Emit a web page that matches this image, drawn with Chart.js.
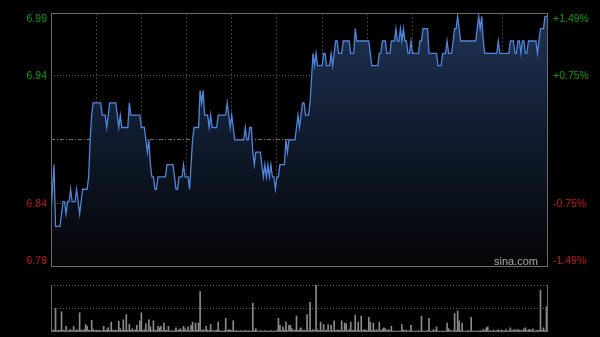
<!DOCTYPE html>
<html>
<head>
<meta charset="utf-8">
<script src="https://cdn.jsdelivr.net/npm/chart.js@4.4.0/dist/chart.umd.min.js"></script>
<style>
  html, body { margin: 0; padding: 0; background: #000; }
  #wrap { position: relative; width: 600px; height: 337px; }
  #priceBox { position: absolute; left: 0; top: 0; width: 600px; height: 278px; }
  #volBox { position: absolute; left: 0; top: 280px; width: 600px; height: 57px; }
</style>
</head>
<body>
<div id="wrap">
  <div id="priceBox"><canvas id="price"></canvas></div>
  <div id="volBox"><canvas id="vol"></canvas></div>
</div>
<script>
// intraday, one value per minute (09:30-12:00, 13:00-16:00)
const prevClose = 6.89;
const pctRange = 1.49;

const prices = [
  6.83,6.85,6.87,6.82,6.82,6.82,6.82,6.83,6.84,6.84,
  6.83,6.84,6.84,6.85,6.84,6.84,6.84,6.85,6.84,6.83,
  6.84,6.85,6.85,6.85,6.85,6.86,6.89,6.91,6.92,6.92,
  6.92,6.92,6.92,6.92,6.91,6.91,6.91,6.90,6.91,6.92,
  6.92,6.92,6.92,6.92,6.91,6.90,6.91,6.90,6.90,6.90,
  6.90,6.90,6.92,6.91,6.91,6.91,6.91,6.91,6.91,6.91,
  6.90,6.90,6.90,6.89,6.88,6.89,6.87,6.86,6.86,6.85,
  6.85,6.86,6.86,6.86,6.86,6.86,6.86,6.87,6.87,6.87,
  6.87,6.87,6.86,6.85,6.85,6.86,6.86,6.86,6.87,6.86,
  6.86,6.86,6.85,6.87,6.89,6.90,6.90,6.90,6.90,6.93,
  6.92,6.93,6.91,6.91,6.91,6.90,6.91,6.90,6.90,6.90,
  6.90,6.91,6.91,6.91,6.91,6.91,6.91,6.92,6.91,6.90,
  6.91,6.90,6.89,6.89,6.89,6.89,6.89,6.89,6.89,6.90,
  6.89,6.89,6.90,6.90,6.88,6.87,6.88,6.88,6.88,6.88,
  6.87,6.86,6.87,6.86,6.87,6.86,6.87,6.86,6.86,6.85,
  6.86,6.86,6.87,6.87,6.87,6.87,6.89,6.88,6.89,6.89,
  6.89,6.89,6.89,6.90,6.91,6.90,6.91,6.92,6.92,6.91,
  6.91,6.91,6.92,6.94,6.96,6.95,6.96,6.95,6.95,6.95,
  6.95,6.96,6.96,6.95,6.95,6.95,6.96,6.95,6.96,6.97,
  6.97,6.96,6.96,6.96,6.97,6.97,6.97,6.97,6.97,6.96,
  6.96,6.96,6.98,6.97,6.97,6.97,6.97,6.97,6.97,6.97,
  6.97,6.97,6.96,6.95,6.95,6.95,6.95,6.95,6.96,6.96,
  6.97,6.97,6.97,6.96,6.96,6.96,6.97,6.97,6.97,6.98,
  6.97,6.97,6.98,6.97,6.98,6.97,6.97,6.96,6.96,6.97,
  6.96,6.96,6.96,6.96,6.96,6.97,6.97,6.98,6.98,6.98,
  6.98,6.96,6.96,6.96,6.96,6.96,6.96,6.95,6.95,6.95,
  6.96,6.96,6.96,6.97,6.96,6.96,6.96,6.97,6.98,6.98,
  6.99,6.98,6.97,6.97,6.97,6.97,6.97,6.97,6.97,6.97,
  6.97,6.97,6.97,6.98,6.99,6.98,6.99,6.97,6.96,6.96,
  6.96,6.96,6.96,6.96,6.96,6.96,6.96,6.97,6.96,6.96,
  6.96,6.96,6.96,6.96,6.96,6.97,6.97,6.97,6.96,6.96,
  6.97,6.97,6.96,6.97,6.97,6.96,6.96,6.97,6.97,6.97,
  6.97,6.97,6.97,6.96,6.97,6.98,6.98,6.98,6.99,6.99,
  6.99
];

// relative volume per minute (tallest bar = 100)
const volumes = [
  6,3,4,50,3,4,3,43,4,3,
  12,2,4,5,3,12,3,5,3,41,
  4,3,5,16,12,4,3,25,5,3,
  4,3,4,2,3,12,3,5,9,3,
  21,4,3,4,3,23,7,3,26,4,
  37,3,16,4,7,3,5,14,3,24,
  41,3,5,18,3,26,11,3,24,4,
  3,12,9,12,3,19,4,3,12,2,
  3,2,3,9,3,5,7,3,12,7,
  3,11,3,14,21,3,19,4,19,86,
  3,5,3,12,4,3,16,3,2,3,
  4,21,3,2,2,3,29,3,5,4,
  3,24,2,3,2,2,3,2,2,3,
  2,3,2,2,61,3,7,2,2,3,
  2,2,3,2,2,2,3,2,2,2,
  3,29,14,3,11,4,21,3,14,14,
  7,3,4,34,3,5,9,3,4,3,
  37,3,63,3,5,3,100,5,3,21,
  3,16,3,4,16,3,14,3,24,3,
  4,4,3,24,3,19,18,3,5,21,
  3,4,36,3,21,3,34,3,5,4,
  3,31,21,3,19,3,5,3,21,3,
  5,9,7,3,5,3,12,2,2,2,
  2,2,2,16,4,3,4,2,3,14,
  2,2,2,2,3,2,34,2,2,2,
  3,29,2,2,5,3,11,2,2,2,
  2,2,2,19,7,3,2,3,39,3,
  45,24,3,19,2,2,2,3,2,31,
  2,2,2,2,2,3,2,5,3,9,
  11,2,3,2,4,2,3,5,2,4,
  3,2,5,2,3,9,3,4,5,3,
  5,4,3,3,7,9,3,5,5,3,
  7,2,3,4,3,89,3,9,3,54,
  8
];

// tick positions (% from previous close) and their texts
const tickPcts = [-1.42, -0.75, 0, 0.75, 1.42];
const priceLabels = ['6.79', '6.84', '', '6.94', '6.99'];
const pctLabels = ['-1.49%', '-0.75%', '', '+0.75%', '+1.49%'];

const lastMinute = prices.length - 1;
const yMin = prevClose * (1 - pctRange / 100);
const yMax = prevClose * (1 + pctRange / 100);
const upColor = '#0b9e0b';
const downColor = '#cc1515';
const labelFont = { family: 'Liberation Sans, Arial, sans-serif', size: 10.5 };

function setTicks(scale) {
  scale.ticks = tickPcts.map(p => ({ value: prevClose * (1 + p / 100) }));
}

const frame = {
  id: 'frame',
  afterDraw(chart) {
    const a = chart.chartArea;
    const c = chart.ctx;
    c.save();
    c.strokeStyle = '#6a6a6a';
    c.lineWidth = 1;
    c.strokeRect(Math.round(a.left) + 0.5, Math.round(a.top) + 0.5,
      Math.round(a.right - a.left) - 1, Math.round(a.bottom - a.top) - 1);
    c.fillStyle = '#a8a8a8';
    c.font = '11px Liberation Sans, Arial, sans-serif';
    c.textAlign = 'right';
    c.textBaseline = 'middle';
    c.fillText('sina.com', a.right - 10, a.bottom - 5);
    c.restore();
  }
};

new Chart(document.getElementById('price'), {
  type: 'line',
  data: {
    datasets: [{
      data: prices.map((p, i) => ({ x: i, y: p })),
      borderColor: '#4f86db',
      borderWidth: 1.3,
      pointRadius: 0,
      tension: 0,
      fill: 'start',
      backgroundColor: ctx => {
        const a = ctx.chart.chartArea;
        if (!a) return 'rgba(0,0,0,0)';
        const g = ctx.chart.ctx.createLinearGradient(0, a.top, 0, a.bottom);
        g.addColorStop(0, '#203356');
        g.addColorStop(0.5, '#0f1a2c');
        g.addColorStop(1, '#040507');
        return g;
      }
    }]
  },
  options: {
    responsive: true,
    maintainAspectRatio: false,
    animation: false,
    events: [],
    layout: { padding: { top: 13, bottom: 6 } },
    plugins: { legend: { display: false }, tooltip: { enabled: false } },
    scales: {
      x: {
        type: 'linear', min: 0, max: lastMinute,
        afterFit: s => { s.height = 0; },
        ticks: { display: false, stepSize: 30 },
        grid: {
          drawTicks: false,
          color: ctx => (ctx.tick && ctx.tick.value > 0 && ctx.tick.value < lastMinute) ? '#3d3d3d' : 'rgba(0,0,0,0)'
        },
        border: { display: false, dash: [2, 2] }
      },
      y: {
        position: 'left', min: yMin, max: yMax,
        afterBuildTicks: setTicks,
        afterFit: s => { s.width = 51; },
        ticks: {
          padding: 4,
          font: labelFont,
          color: ctx => ctx.index > 2 ? upColor : downColor,
          callback: (v, i) => priceLabels[i]
        },
        grid: {
          drawTicks: false,
          color: ctx => (ctx.index === 1 || ctx.index === 3) ? '#5c5c5c' : 'rgba(0,0,0,0)'
        },
        border: { display: false, dash: [1, 2] }
      },
      yr: {
        position: 'right', min: yMin, max: yMax,
        afterBuildTicks: setTicks,
        afterFit: s => { s.width = 52; },
        ticks: {
          padding: 5,
          font: labelFont,
          color: ctx => ctx.index > 2 ? upColor : downColor,
          callback: (v, i) => pctLabels[i]
        },
        grid: {
          drawTicks: false,
          color: ctx => ctx.index === 2 ? '#6e6e6e' : 'rgba(0,0,0,0)'
        },
        border: { display: false, dash: [4, 2, 1, 2] }
      }
    }
  },
  plugins: [frame]
});

const volFrame = {
  id: 'volFrame',
  afterDraw(chart) {
    const a = chart.chartArea;
    const c = chart.ctx;
    c.save();
    c.strokeStyle = '#6a6a6a';
    c.lineWidth = 1;
    c.beginPath();
    c.moveTo(Math.round(a.left) + 0.5, a.top);
    c.lineTo(Math.round(a.left) + 0.5, a.bottom);
    c.moveTo(Math.round(a.right) - 0.5, a.top);
    c.lineTo(Math.round(a.right) - 0.5, a.bottom);
    c.stroke();
    c.restore();
  }
};

new Chart(document.getElementById('vol'), {
  type: 'bar',
  data: {
    datasets: [{
      data: volumes.map((v, i) => ({ x: i, y: v })),
      backgroundColor: '#8a8a8a',
      barThickness: 1
    }]
  },
  options: {
    responsive: true,
    maintainAspectRatio: false,
    animation: false,
    events: [],
    layout: { padding: { top: 5, bottom: 5, left: 51, right: 52 } },
    plugins: { legend: { display: false }, tooltip: { enabled: false } },
    scales: {
      x: { type: 'linear', min: 0, max: lastMinute, offset: false, display: false },
      y: {
        min: 0, max: 100,
        afterBuildTicks: s => { s.ticks = [{ value: 0 }, { value: 50 }, { value: 100 }]; },
        afterFit: s => { s.width = 0; },
        ticks: { display: false },
        grid: {
          drawTicks: false,
          color: ctx => ctx.tick && ctx.tick.value > 0 ? '#5a5a5a' : 'rgba(0,0,0,0)'
        },
        border: { display: false, dash: [1, 2] }
      }
    }
  },
  plugins: [volFrame]
});
</script>
</body>
</html>
